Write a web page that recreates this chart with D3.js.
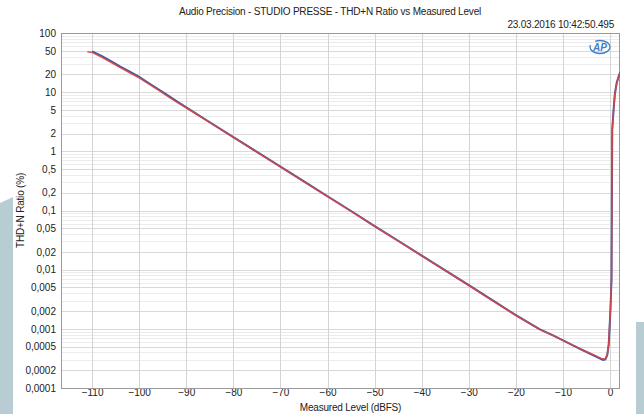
<!DOCTYPE html>
<html>
<head>
<meta charset="utf-8">
<script src="https://cdn.jsdelivr.net/npm/d3@7"></script>
<style>
  body { margin: 0; background: #fff; }
  svg { display: block; font-family: "Liberation Sans", Arial, sans-serif; }
</style>
</head>
<body>
<div id="chart"></div>
<script>
// measured level, dBFS
var levels = [-111, -110, -108, -106, -104, -102, -100, -98, -96, -94, -92, -90, -85, -80, -75, -70,
  -65, -60, -55, -50, -45, -40, -35, -30, -25, -20, -15, -12, -10, -8, -6, -4, -3, -2, -1.5, -1,
  -0.6, -0.3, -0.1, 0.1, 0.3, 0.45, 0.7, 1.0, 1.4, 1.9, 2.2];

// THD+N ratio in %, channel 1 (blue)
var ch1 = [null, 49, 41, 33.5, 27, 22.2, 18.1, 14.3, 11.3, 8.9, 7, 5.55, 3.1, 1.74, 0.98, 0.55,
  0.31, 0.174, 0.098, 0.0545, 0.0308, 0.0173, 0.0097, 0.0055, 0.00305, 0.0017, 0.00099, 0.00077, 0.00064, 0.00053, 0.00044, 0.00037,
  0.00034, 0.00031, 0.000298, 0.000305, 0.00036, 0.00054, 0.0011, 0.0024, 0.007, 2.3, 4.6, 9.2, 14.5, 19.5, 22];

// THD+N ratio in %, channel 2 (red)
var ch2 = [48, 47, 39, 32, 26, 21.3, 17.4, 13.8, 10.9, 8.6, 6.8, 5.45, 3.05, 1.72, 0.97, 0.545,
  0.305, 0.172, 0.097, 0.054, 0.0305, 0.0171, 0.0096, 0.0054, 0.003, 0.00168, 0.00098, 0.00076, 0.00064, 0.00053, 0.00045, 0.00038,
  0.00035, 0.00032, 0.00031, 0.00031, 0.00037, 0.00055, 0.0011, 0.0024, 0.007, 2.3, 4.5, 9, 14, 19, 21];

var xTicks = [-110, -100, -90, -80, -70, -60, -50, -40, -30, -20, -10, 0];
var yTicks = [0.0001, 0.0002, 0.0005, 0.001, 0.002, 0.005, 0.01, 0.02, 0.05, 0.1, 0.2, 0.5, 1, 2, 5, 10, 20, 50, 100];

var titleText = 'Audio Precision - STUDIO PRESSE - THD+N Ratio vs Measured Level';
var stampText = '23.03.2016 10:42:50.495';

var W = 644, H = 414;
var margin = {top: 33, right: 24, bottom: 26, left: 61};
var w = W - margin.left - margin.right,
    h = H - margin.top - margin.bottom;

var svg = d3.select('#chart').append('svg')
    .attr('width', W)
    .attr('height', H);

// background decoration at the page edges
svg.append('path')
    .attr('d', 'M0,203 L13,197 L13,414 L0,414 Z')
    .attr('fill', '#b7ccd3');
svg.append('rect')
    .attr('x', 636).attr('y', 322)
    .attr('width', 8).attr('height', 92)
    .attr('fill', '#b7ccd3');

svg.append('text')
    .attr('x', 330).attr('y', 15)
    .attr('text-anchor', 'middle')
    .style('font-size', '10px')
    .style('letter-spacing', '-0.2px')
    .style('fill', '#222')
    .text(titleText);

svg.append('text')
    .attr('x', 614).attr('y', 28)
    .attr('text-anchor', 'end')
    .style('font-size', '10px')
    .style('letter-spacing', '-0.2px')
    .style('fill', '#222')
    .text(stampText);

var x = d3.scaleLinear()
    .domain([-116.6, 2.1])
    .range([0, w]);

var y = d3.scaleLog()
    .domain([0.0001, 100])
    .range([h, 0]);

var plot = svg.append('g')
    .attr('transform', translation(margin.left, margin.top));

// minor horizontal grid, 1..9 per decade
var minor = [];
for (var e = -4; e < 2; e++) {
    for (var m = 1; m < 10; m++) minor.push(m * Math.pow(10, e));
}
plot.selectAll('.minor')
    .data(minor)
    .enter().append('line')
    .attr('class', 'minor')
    .attr('x1', 0).attr('x2', w)
    .attr('y1', function(d) { return Math.round(y(d)) + 0.5; })
    .attr('y2', function(d) { return Math.round(y(d)) + 0.5; })
    .attr('stroke', '#ececec');

plot.selectAll('.hgrid')
    .data(yTicks)
    .enter().append('line')
    .attr('class', 'hgrid')
    .attr('x1', 0).attr('x2', w)
    .attr('y1', function(d) { return Math.round(y(d)) + 0.5; })
    .attr('y2', function(d) { return Math.round(y(d)) + 0.5; })
    .attr('stroke', '#d9d9d9');

plot.selectAll('.vgrid')
    .data(xTicks)
    .enter().append('line')
    .attr('class', 'vgrid')
    .attr('y1', 0).attr('y2', h)
    .attr('x1', function(d) { return Math.round(x(d)) + 0.5; })
    .attr('x2', function(d) { return Math.round(x(d)) + 0.5; })
    .attr('stroke', '#d4d4d4');

// axes
var xAxis = d3.axisBottom(x)
    .tickValues(xTicks)
    .tickSize(0)
    .tickPadding(1)
    .tickFormat(d3.format('d'));

var yAxis = d3.axisLeft(y)
    .tickValues(yTicks)
    .tickSize(0)
    .tickPadding(5)
    .tickFormat(commaFormat);

plot.append('g')
    .attr('class', 'axis x')
    .attr('transform', translation(0, h))
    .call(xAxis);

plot.append('g')
    .attr('class', 'axis y')
    .call(yAxis);

plot.selectAll('.axis path').remove();
plot.selectAll('.axis text')
    .style('font-size', '10px')
    .style('font-family', '"Liberation Sans", Arial, sans-serif')
    .style('fill', '#222');

// frame
plot.append('rect')
    .attr('x', 0.5).attr('y', 0.5)
    .attr('width', w - 1).attr('height', h)
    .attr('fill', 'none')
    .attr('stroke', '#9a9a9a');

svg.append('text')
    .attr('x', margin.left + w / 2 + 10).attr('y', 411)
    .attr('text-anchor', 'middle')
    .style('font-size', '10px')
    .style('letter-spacing', '-0.2px')
    .style('fill', '#222')
    .text('Measured Level (dBFS)');

svg.append('text')
    .attr('transform', translation(24, margin.top + h / 2) + ' rotate(-90)')
    .attr('text-anchor', 'middle')
    .style('font-size', '10px')
    .style('letter-spacing', '-0.2px')
    .style('fill', '#222')
    .text('THD+N Ratio (%)');

// AP logo
var logo = svg.append('g').attr('transform', translation(600, 47));
logo.append('ellipse')
    .attr('rx', 10).attr('ry', 6.5)
    .attr('fill', 'none')
    .attr('stroke', '#3f7fc8')
    .attr('stroke-width', 1.3)
    .attr('stroke-dasharray', '28 6');
logo.append('text')
    .attr('y', 3.5)
    .attr('text-anchor', 'middle')
    .style('font-size', '10px')
    .style('font-weight', 'bold')
    .style('font-style', 'italic')
    .style('fill', '#3f7fc8')
    .text('AP');

// traces
svg.append('clipPath').attr('id', 'clip')
    .append('rect').attr('width', w).attr('height', h);

var line = d3.line()
    .defined(function(d) { return d[1] != null; })
    .x(function(d) { return x(d[0]); })
    .y(function(d) { return y(d[1]); });

var traces = plot.append('g').attr('clip-path', 'url(#clip)');

traces.append('path')
    .datum(d3.zip(levels, ch1))
    .attr('d', line)
    .attr('fill', 'none')
    .attr('stroke', '#3d5d9e')
    .attr('stroke-width', 2);

traces.append('path')
    .datum(d3.zip(levels, ch2))
    .attr('d', line)
    .attr('fill', 'none')
    .attr('stroke', '#dc4346')
    .attr('stroke-width', 1.5)
    .attr('stroke-opacity', 0.9);

/* HELPER FUNCTIONS */
function translation(a, b) {
    return 'translate(' + a + ',' + b + ')';
}

// numbers with a decimal comma, like the AP software
function commaFormat(d) {
    var s = d >= 1 ? d3.format('d')(d) : String(+d.toPrecision(1));
    return s.replace('.', ',');
}
</script>
</body>
</html>
